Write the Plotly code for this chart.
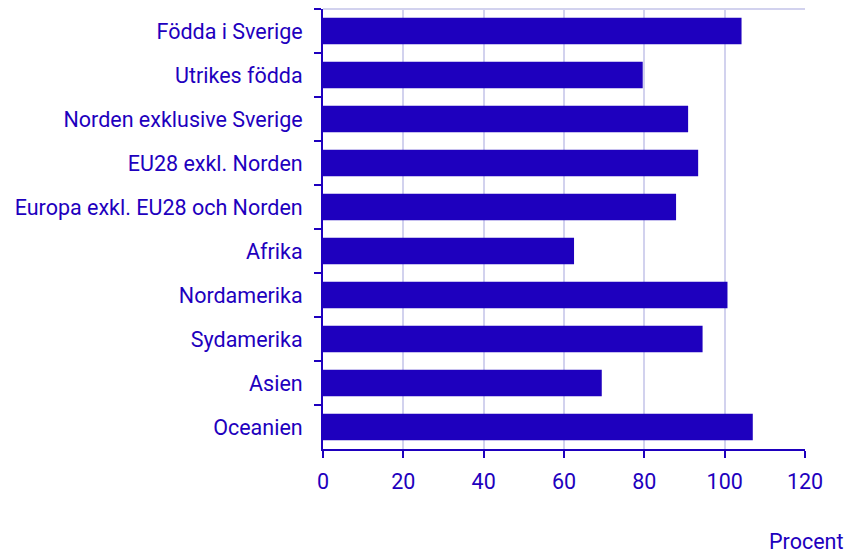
import plotly.graph_objects as go

categories = ["Födda i Sverige", "Utrikes födda", "Norden exklusive Sverige", "EU28 exkl. Norden",
              "Europa exkl. EU28 och Norden", "Afrika", "Nordamerika", "Sydamerika", "Asien", "Oceanien"]
values = [104.2, 79.6, 90.9, 93.4, 87.9, 62.5, 100.7, 94.5, 69.4, 107.0]
x_ticks = [0, 20, 40, 60, 80, 100, 120]
unit_label = "Procent"

BLUE = "#1e00be"
GRID = "#d2d2ee"
FS = 21.5

fig = go.Figure(go.Bar(
    x=values, y=categories, orientation="h",
    marker=dict(color=BLUE, line=dict(width=0)),
    hoverinfo="x+y",
))

fig.update_layout(
    width=858, height=555,
    margin=dict(l=315, r=61, t=1, b=114),
    plot_bgcolor="white", paper_bgcolor="white",
    bargap=0.4,
    showlegend=False,
    font=dict(family="Roboto", size=FS, color=BLUE),
    xaxis=dict(
        range=[0, 120], tickvals=x_ticks, showgrid=True, gridcolor=GRID, gridwidth=2,
        zeroline=False, showline=True, linecolor=BLUE, linewidth=2,
        ticks="outside", ticklen=7, tickcolor=BLUE, tickwidth=2,
        tickfont=dict(size=FS, color=BLUE), ticklabelstandoff=5,
    ),
    yaxis=dict(
        categoryorder="array", categoryarray=categories, autorange="reversed",
        showgrid=False, showline=True, linecolor=BLUE, linewidth=2,
        ticks="outside", ticklen=7, tickcolor=BLUE, tickwidth=2, tickson="boundaries",
        tickfont=dict(size=FS, color=BLUE), ticklabelstandoff=14,
    ),
    shapes=[dict(type="line", xref="x", yref="paper", x0=0, x1=120, y0=1, y1=1,
                 line=dict(color=GRID, width=2), layer="below")],
    annotations=[dict(text=unit_label, xref="paper", yref="paper", x=1.0, y=0,
                      xshift=40, yshift=-78, xanchor="right", yanchor="top",
                      showarrow=False, font=dict(size=FS, color=BLUE))],
)

fig.write_html("out.html")
